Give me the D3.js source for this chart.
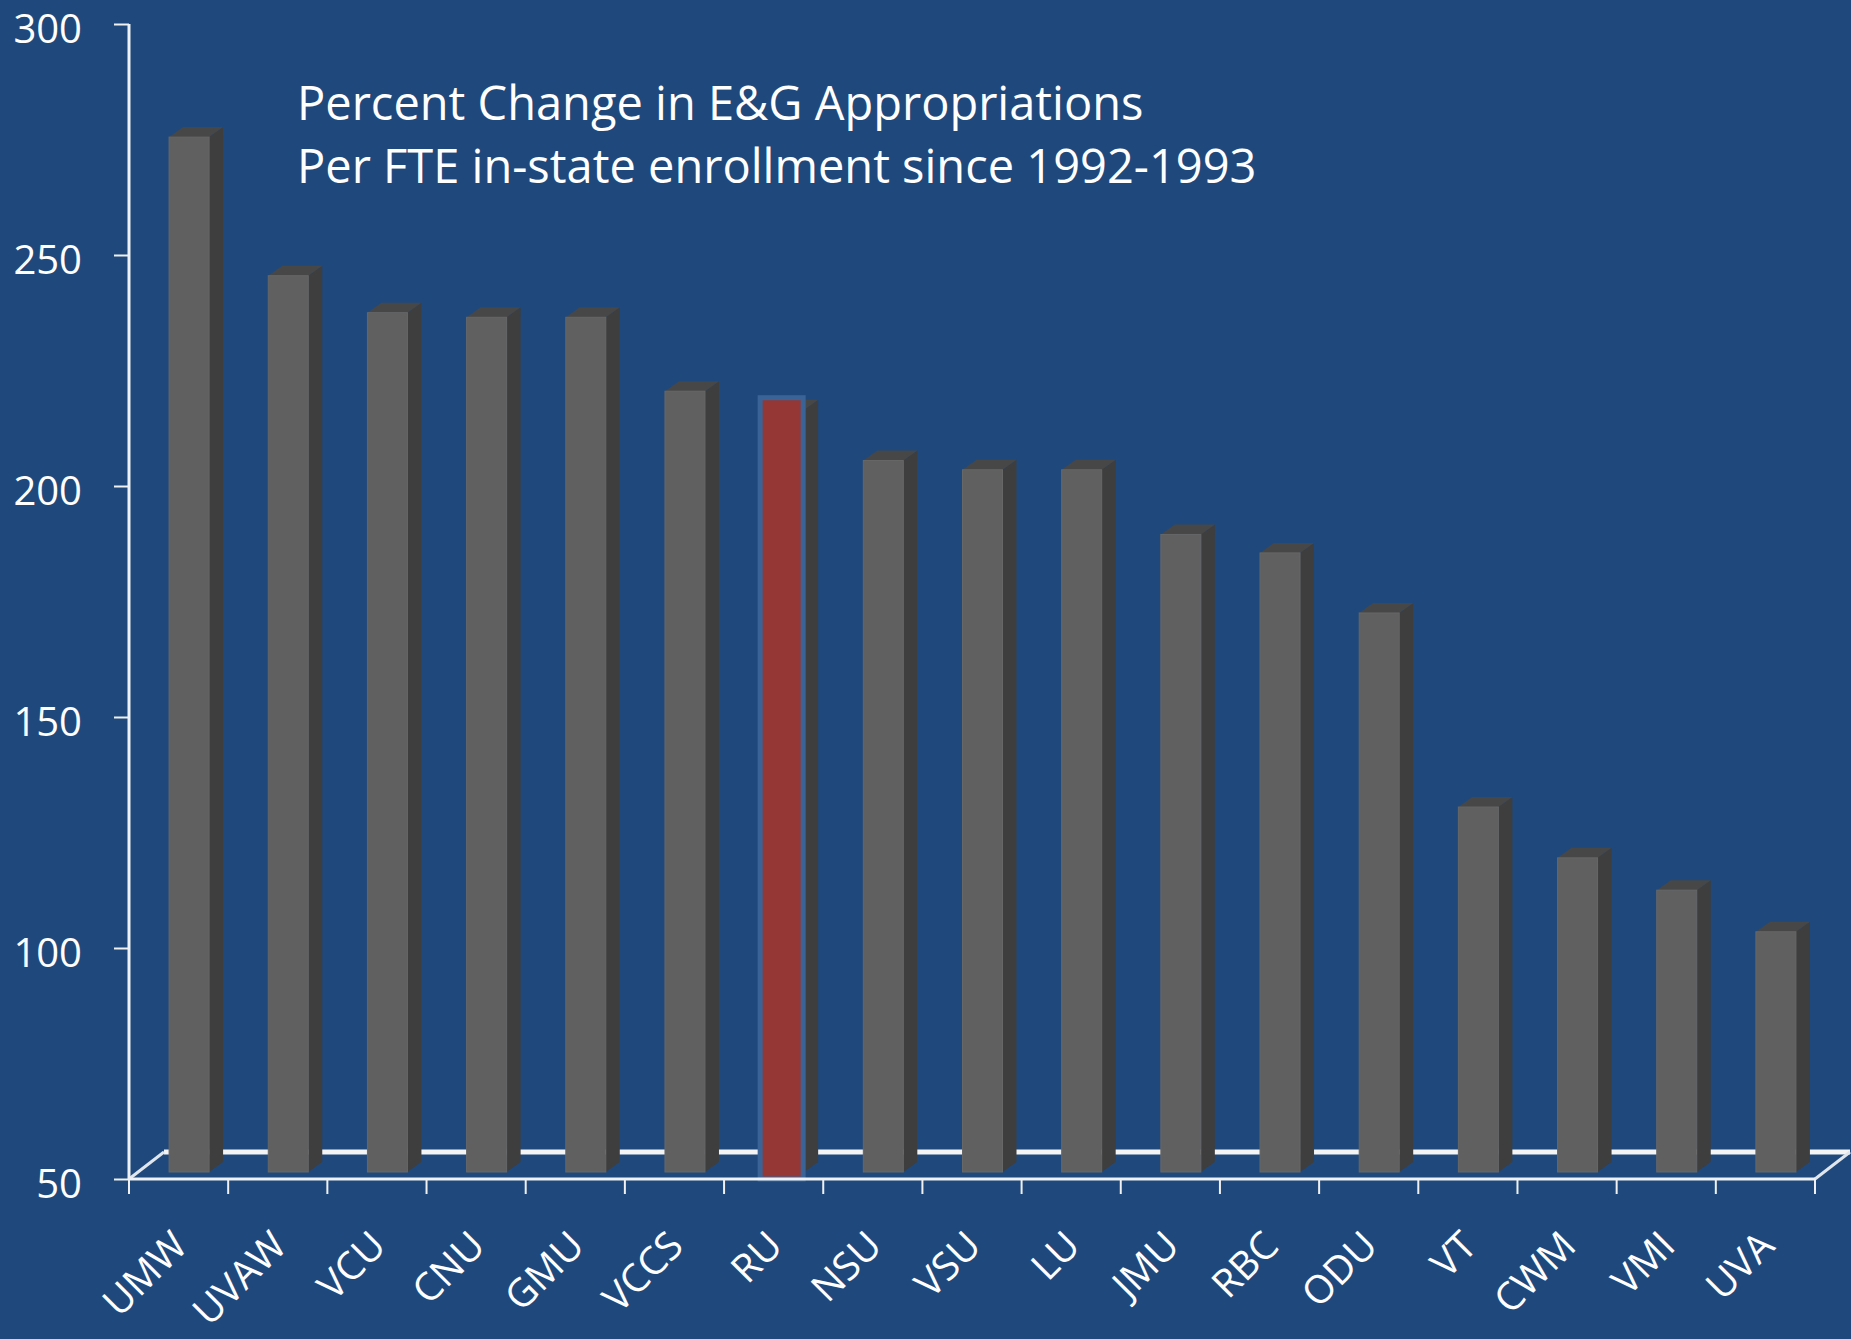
<!DOCTYPE html>
<html>
<head>
<meta charset="utf-8">
<script src="https://cdn.jsdelivr.net/npm/d3@7"></script>
<style>
  body { margin: 0; background: #1f497d; }
  svg { display: block; }
</style>
</head>
<body>
<svg id="chart" width="1851" height="1339"></svg>
<script>
var categories = ["UMW","UVAW","VCU","CNU","GMU","VCCS","RU","NSU","VSU","LU","JMU","RBC","ODU","VT","CWM","VMI","UVA"]
var values = [274, 244, 236, 235, 235, 219, 215, 204, 202, 202, 188, 184, 171, 129, 118, 111, 102]
var highlighted = ["RU"]
var yTicks = [50, 100, 150, 200, 250, 300]
var titleLines = ["Percent Change in E&G Appropriations", "Per FTE in-state enrollment since 1992-1993"]

var drawFloor = function(svg, xScale, yScale, depth) {
    var x0 = xScale.range()[0], x1 = xScale.range()[1]
    var yb = yScale(yTicks[0])

    // back edge of the floor, bars cover it
    svg.append("line")
      .attr("x1", x0 + depth.dx).attr("x2", x1 + depth.dx)
      .attr("y1", yb + depth.dy).attr("y2", yb + depth.dy)
      .attr("stroke", "#f4f4f4")
      .style("stroke-width", 5)

    svg.selectAll("floorSides")
      .data([x0, x1])
      .enter()
      .append("line")
        .attr("x1", function(d){ return d })
        .attr("y1", yb)
        .attr("x2", function(d){ return d + depth.dx })
        .attr("y2", yb + depth.dy)
        .attr("stroke", "#dfe6ee")
        .style("stroke-width", 3)
}

var drawBars = function(svg, data, xScale, yScale) {
    var bw = xScale.bandwidth()
    var face = 40, shift = 10.5, lift = 7
    var side = {dx: 14, dy: -10}
    var yb = yScale(yTicks[0]) - lift

    var left = function(d){ return xScale(d.name) + bw/2 + shift - face/2 }
    var top = function(d){ return yScale(d.value) - lift }

    var bars = svg.selectAll("myBars")
      .data(data)
      .enter()
      .append("g")

    bars.append("path")
      .attr("d", function(d){
        var l = left(d) + face, t = top(d)
        return "M" + l + "," + t + "L" + (l + side.dx) + "," + (t + side.dy) +
               "L" + (l + side.dx) + "," + (yb + side.dy) + "L" + l + "," + yb + "Z"
      })
      .attr("fill", "#3e3e3e")

    bars.append("path")
      .attr("d", function(d){
        var l = left(d), t = top(d)
        return "M" + l + "," + t + "L" + (l + side.dx) + "," + (t + side.dy) +
               "L" + (l + face + side.dx) + "," + (t + side.dy) + "L" + (l + face) + "," + t + "Z"
      })
      .attr("fill", "#474747")

    bars.append("rect")
      .attr("x", left)
      .attr("y", top)
      .attr("width", face)
      .attr("height", function(d){ return yb - top(d) })
      .attr("fill", "#606060")
      .attr("stroke", "#676767")
      .style("stroke-width", 1)

    // highlighted school drawn as a flat red bar down to the axis
    svg.selectAll("myHighlight")
      .data(data.filter(function(d){ return highlighted.indexOf(d.name) >= 0 }))
      .enter()
      .append("rect")
        .attr("x", function(d){ return left(d) - 4 })
        .attr("y", function(d){ return top(d) - 12 })
        .attr("width", face + 3)
        .attr("height", function(d){ return yScale(yTicks[0]) - top(d) + 12 })
        .attr("fill", "#953735")
        .attr("stroke", "#3a6498")
        .style("stroke-width", 5)
}

var drawAxes = function(svg, xScale, yScale) {
    var x0 = xScale.range()[0], x1 = xScale.range()[1]
    var yb = yScale(yTicks[0])

    var yAxis = d3.axisLeft(yScale)
      .tickValues(yTicks)
      .tickSize(15)
      .tickPadding(32)

    var gy = svg.append("g")
      .attr("transform", "translate(" + x0 + ",0)")
      .call(yAxis)
    gy.select(".domain").remove()
    gy.selectAll("line").attr("stroke", "#f0f0f0").style("stroke-width", 2)
    gy.selectAll("text")
      .attr("fill", "white")
      .attr("dy", "0.45em")
      .style("font-family", "'Open Sans', sans-serif")
      .style("font-size", "40px")

    svg.append("line")
      .attr("x1", x0).attr("x2", x0)
      .attr("y1", yScale(yTicks[yTicks.length - 1])).attr("y2", yb)
      .attr("stroke", "#eef2f6")
      .style("stroke-width", 3)

    svg.append("line")
      .attr("x1", x0).attr("x2", x1)
      .attr("y1", yb).attr("y2", yb)
      .attr("stroke", "#eef2f6")
      .style("stroke-width", 3)

    var bounds = categories.map(function(c){ return xScale(c) }).concat([x1])
    svg.selectAll("xTicks")
      .data(bounds)
      .enter()
      .append("line")
        .attr("x1", function(d){ return d }).attr("x2", function(d){ return d })
        .attr("y1", yb).attr("y2", yb + 15)
        .attr("stroke", "#f0f0f0")
        .style("stroke-width", 2)

    var bw = xScale.bandwidth()
    svg.selectAll("xLabels")
      .data(categories)
      .enter()
      .append("text")
        .attr("transform", function(d){
          return "translate(" + (xScale(d) + bw/2 + 11) + "," + (yb + 69) + ") rotate(-45)"
        })
        .attr("text-anchor", "end")
        .attr("fill", "white")
        .style("font-family", "'Open Sans', sans-serif")
        .style("font-size", "39px")
        .text(function(d){ return d })
}

var drawTitle = function(svg) {
    svg.selectAll("titleLines")
      .data(titleLines)
      .enter()
      .append("text")
        .attr("x", 297)
        .attr("y", function(d, i){ return 120 + i*63 })
        .attr("fill", "white")
        .style("font-family", "'Open Sans', sans-serif")
        .style("font-size", "47px")
        .text(function(d){ return d })
}

var initChart = function() {
    var svg = d3.select("#chart")

    svg.append("rect")
      .attr("width", 1851)
      .attr("height", 1339)
      .attr("fill", "#1f497d")

    var data = categories.map(function(c, i){ return {name: c, value: values[i]} })

    var xScale = d3.scaleBand()
      .domain(categories)
      .range([129, 1815])

    var yScale = d3.scaleLinear()
      .domain([50, 300])
      .range([1179, 24])

    drawFloor(svg, xScale, yScale, {dx: 35, dy: -27})
    drawBars(svg, data, xScale, yScale)
    drawAxes(svg, xScale, yScale)
    drawTitle(svg)
}

initChart()
</script>
</body>
</html>
